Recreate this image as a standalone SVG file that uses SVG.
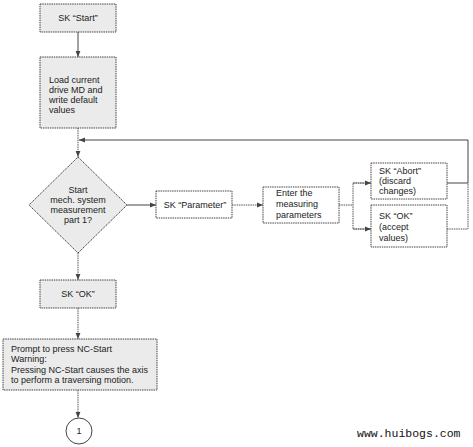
<svg xmlns="http://www.w3.org/2000/svg" width="473" height="447" viewBox="0 0 473 447">
<style>
.box{fill:#ebebeb;stroke:#444;stroke-width:1;stroke-dasharray:1.5 0.8}
.wbox{fill:#fff;stroke:#444;stroke-width:1;stroke-dasharray:1.5 0.8}
.ln{fill:none;stroke:#555;stroke-width:1;stroke-dasharray:1.5 0.8}
.sl{fill:none;stroke:#444;stroke-width:1}
text{font-family:"Liberation Sans",Arial,sans-serif;font-size:9px;fill:#222}
.c{text-anchor:middle}
.wm{font-family:"Liberation Mono","Courier New",monospace;font-size:11.5px;fill:#111}
</style>
<defs>
<marker id="ah" viewBox="0 0 10 10" refX="10" refY="5" markerWidth="6" markerHeight="6" orient="auto" markerUnits="userSpaceOnUse">
<path d="M0,1 L10,5 L0,9 z" fill="#444"/>
</marker>
</defs>
<rect width="473" height="447" fill="#fff"/>
<g id="connectors">
<line class="sl" x1="78" y1="32" x2="78" y2="57" marker-end="url(#ah)"/>
<line class="ln" x1="78" y1="128" x2="78" y2="157" marker-end="url(#ah)"/>
<polyline class="sl" points="447,183 468,183 468,140 79,140" marker-end="url(#ah)"/>
<polyline class="ln" points="447,229 468,229 468,183"/>
<line class="sl" x1="127" y1="205" x2="156" y2="205" marker-end="url(#ah)"/>
<line class="ln" x1="232" y1="205" x2="263" y2="205" marker-end="url(#ah)"/>
<line class="ln" x1="339" y1="205" x2="353" y2="205"/>
<polyline class="ln" points="371,183 353,183 353,229 371,229"/>
<line class="ln" x1="353" y1="183" x2="371" y2="183" marker-end="url(#ah)"/>
<line class="ln" x1="353" y1="229" x2="371" y2="229" marker-end="url(#ah)"/>
<line class="ln" x1="78" y1="253" x2="78" y2="280" marker-end="url(#ah)"/>
<line class="ln" x1="78" y1="308" x2="78" y2="339" marker-end="url(#ah)"/>
<line class="ln" x1="78" y1="390" x2="78" y2="418" marker-end="url(#ah)"/>
</g>
<g id="sk-start">
<rect class="box" x="40" y="4" width="76" height="28"/>
<text class="c" x="78" y="21">SK “Start”</text>
</g>
<g id="load">
<rect class="box" x="40" y="57" width="76" height="71"/>
<text x="49" y="83">Load current</text>
<text x="49" y="93">drive MD and</text>
<text x="49" y="103">write default</text>
<text x="49" y="113">values</text>
</g>
<g id="decision">
<polygon class="box" points="78,157 127,205 78,253 29,205"/>
<text class="c" x="78" y="193">Start</text>
<text class="c" x="78" y="203">mech. system</text>
<text class="c" x="78" y="213">measurement</text>
<text class="c" x="78" y="223">part 1?</text>
</g>
<g id="sk-parameter">
<rect class="wbox" x="156" y="191" width="76" height="27"/>
<text class="c" x="195" y="208">SK “Parameter”</text>
</g>
<g id="enter">
<rect class="wbox" x="263" y="187" width="76" height="36"/>
<text x="276" y="196">Enter the</text>
<text x="276" y="207">measuring</text>
<text x="276" y="218">parameters</text>
</g>
<g id="sk-abort">
<rect class="wbox" x="371" y="163" width="76" height="36"/>
<text x="379" y="174">SK “Abort”</text>
<text x="379" y="184">(discard</text>
<text x="379" y="194">changes)</text>
</g>
<g id="sk-ok-accept">
<rect class="wbox" x="371" y="205" width="76" height="42"/>
<text x="379" y="219">SK “OK”</text>
<text x="379" y="230">(accept</text>
<text x="379" y="241">values)</text>
</g>
<g id="sk-ok">
<rect class="box" x="40" y="280" width="76" height="28"/>
<text class="c" x="78" y="297">SK “OK”</text>
</g>
<g id="prompt">
<rect class="box" x="3" y="339" width="154" height="51"/>
<text x="11" y="352">Prompt to press NC-Start</text>
<text x="11" y="362">Warning:</text>
<text x="11" y="373">Pressing NC-Start causes the axis</text>
<text x="11" y="383">to perform a traversing motion.</text>
</g>
<g id="connector-1">
<circle cx="79" cy="431" r="13" fill="#fff" stroke="#444" stroke-width="1"/>
<text class="c" x="79" y="434">1</text>
</g>
<text class="wm" x="357" y="437">www.huibogs.com</text>
</svg>
